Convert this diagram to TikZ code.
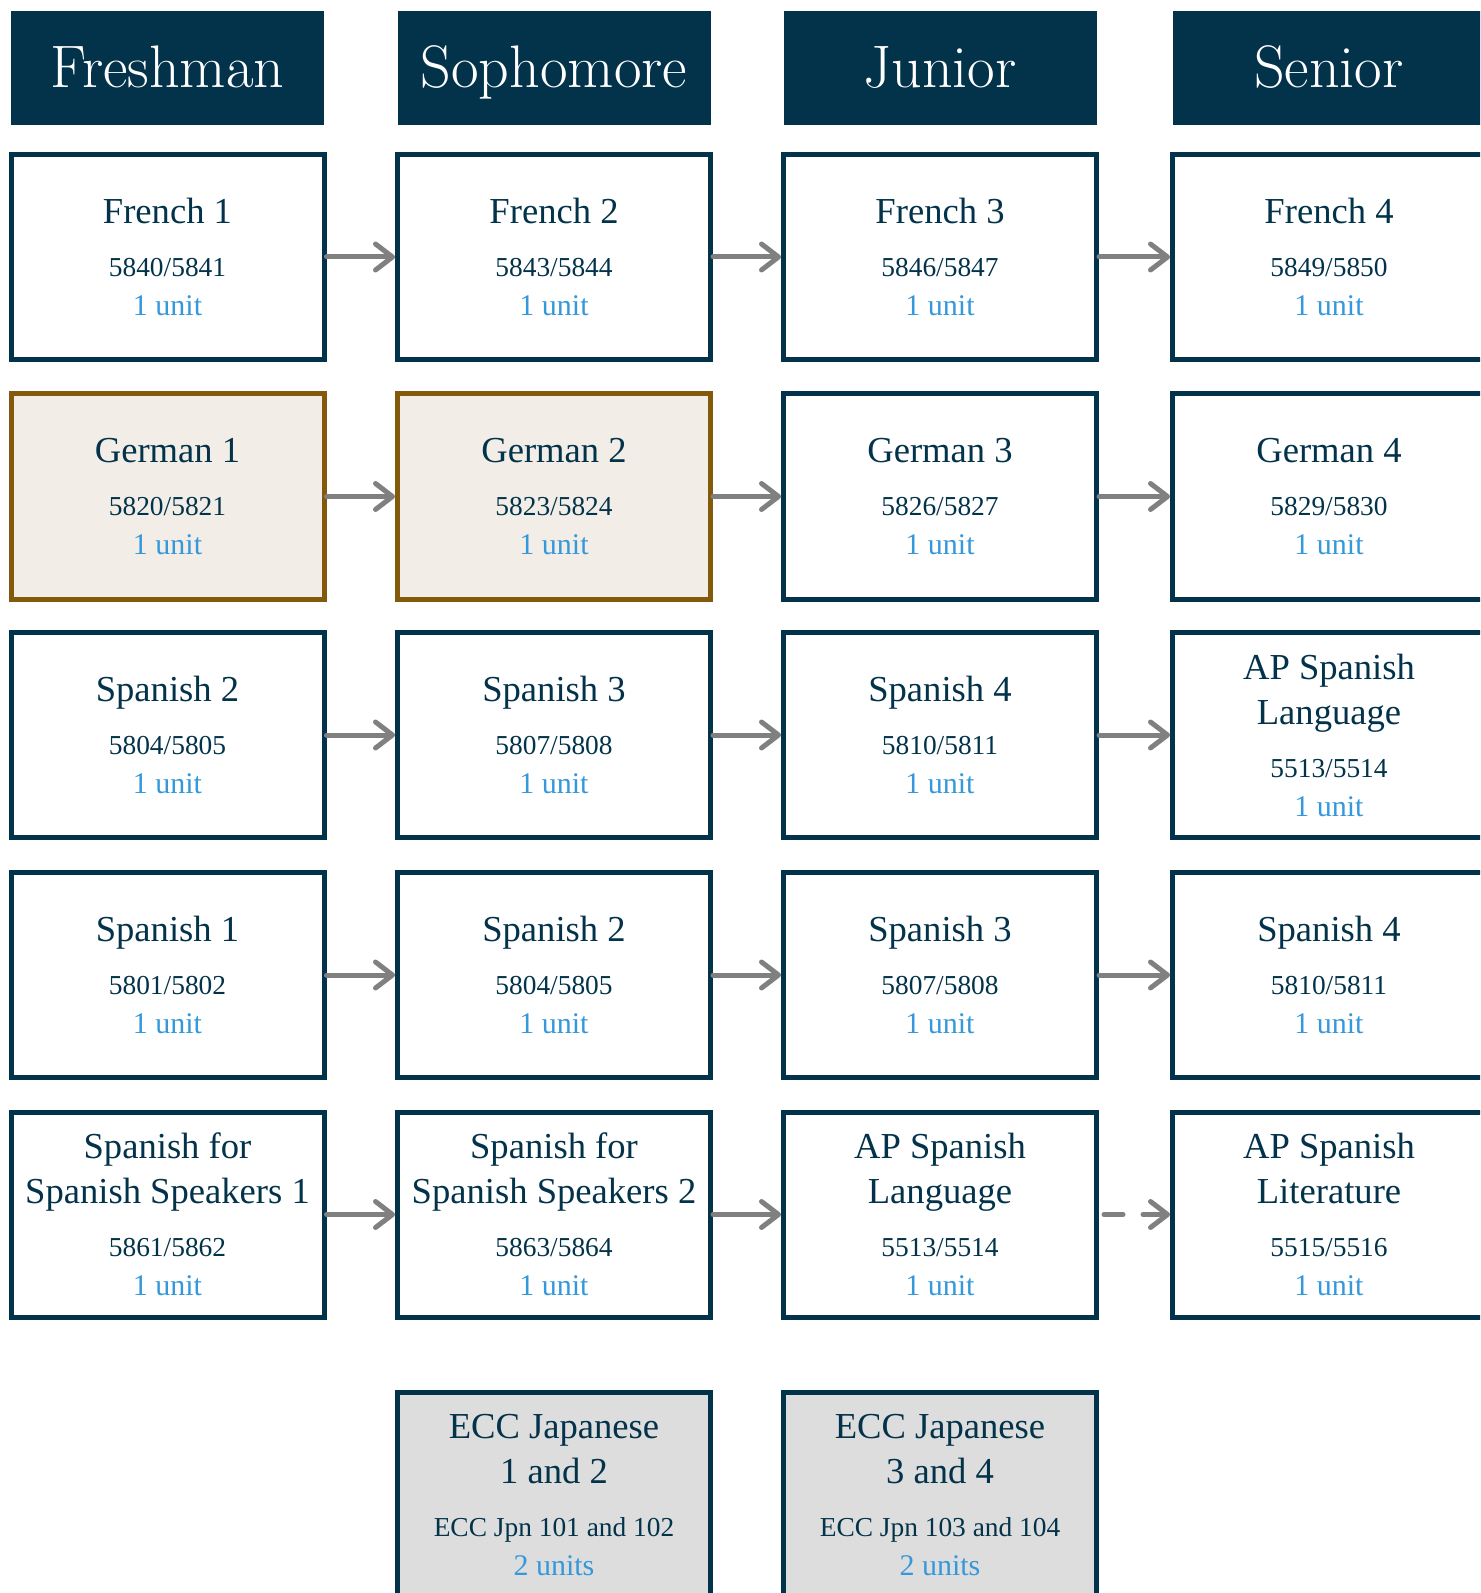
\documentclass[tikz,border=0pt]{standalone}
\usepackage{fontspec}
\newfontfamily\bodyfont{Liberation Serif}
\usetikzlibrary{arrows.meta}
\definecolor{navy}{RGB}{3,51,74}
\definecolor{unitblue}{RGB}{52,152,219}
\definecolor{arrowgray}{RGB}{128,128,128}
\definecolor{gborder}{RGB}{131,90,11}
\definecolor{gfill}{RGB}{242,238,231}
\definecolor{jfill}{RGB}{221,221,221}
\newcommand\tf{\bodyfont\fontsize{18.3}{19.5}\selectfont\color{navy}}
\newcommand\cf{\bodyfont\fontsize{13.7}{19.5}\selectfont\color{navy}}
\newcommand\uf{\bodyfont\fontsize{15}{19.5}\selectfont\color{unitblue}}
\newcommand\crsone[3]{\tf #1\\[7pt]\cf #2\\\uf #3}
\newcommand\crstwo[4]{\tf #1\\[3pt]\tf #2\\[7pt]\cf #3\\\uf #4}
\tikzset{
  course/.style={draw=navy, line width=2.5pt, fill=white, minimum width=156.5pt,
    minimum height=102.5pt, inner sep=0pt, align=center,
    font=\bodyfont\fontsize{13}{19.5}\selectfont},
  german/.style={course, draw=gborder, fill=gfill},
  japan/.style={course, fill=jfill},
  header/.style={fill=navy, minimum width=156.5pt, minimum height=57pt, inner sep=0pt,
    text=white, font=\fontsize{30}{32}\selectfont, text height=20pt, text depth=0pt},
  flow/.style={draw=arrowgray, line width=2.5pt, line cap=round,
    -{Straight Barb[length=8.5pt,width=13pt,round]}},
  optflow/.style={flow, dash pattern=on 9.5pt off 10pt, shorten <=2.5pt}
}
\begin{document}
\begin{tikzpicture}[x=0.5pt,y=-0.5pt]
\useasboundingbox (0,0) rectangle (1480,1593);
\clip (0,0) rectangle (1480,1593);
% headers
\node[header] (h1) at (167.5,68) {Freshman};
\node[header] (h2) at (554,68) {Sophomore};
\node[header] (h3) at (940,68) {Junior};
\node[header] (h4) at (1329,68) {Senior};
% row 1: French
\node[course] (a1) at (167.5,257) {\crsone{French 1}{5840/5841}{1 unit}};
\node[course] (a2) at (554,257) {\crsone{French 2}{5843/5844}{1 unit}};
\node[course] (a3) at (940,257) {\crsone{French 3}{5846/5847}{1 unit}};
\node[course] (a4) at (1329,257) {\crsone{French 4}{5849/5850}{1 unit}};
% row 2: German
\node[german] (b1) at (167.5,496.5) {\crsone{German 1}{5820/5821}{1 unit}};
\node[german] (b2) at (554,496.5) {\crsone{German 2}{5823/5824}{1 unit}};
\node[course] (b3) at (940,496.5) {\crsone{German 3}{5826/5827}{1 unit}};
\node[course] (b4) at (1329,496.5) {\crsone{German 4}{5829/5830}{1 unit}};
% row 3: Spanish from 2
\node[course] (c1) at (167.5,735) {\crsone{Spanish 2}{5804/5805}{1 unit}};
\node[course] (c2) at (554,735) {\crsone{Spanish 3}{5807/5808}{1 unit}};
\node[course] (c3) at (940,735) {\crsone{Spanish 4}{5810/5811}{1 unit}};
\node[course] (c4) at (1329,735) {\crstwo{AP Spanish}{Language}{5513/5514}{1 unit}};
% row 4: Spanish from 1
\node[course] (d1) at (167.5,975) {\crsone{Spanish 1}{5801/5802}{1 unit}};
\node[course] (d2) at (554,975) {\crsone{Spanish 2}{5804/5805}{1 unit}};
\node[course] (d3) at (940,975) {\crsone{Spanish 3}{5807/5808}{1 unit}};
\node[course] (d4) at (1329,975) {\crsone{Spanish 4}{5810/5811}{1 unit}};
% row 5: Spanish for Spanish speakers
\node[course] (e1) at (167.5,1214.5) {\crstwo{Spanish for}{Spanish Speakers 1}{5861/5862}{1 unit}};
\node[course] (e2) at (554,1214.5) {\crstwo{Spanish for}{Spanish Speakers 2}{5863/5864}{1 unit}};
\node[course] (e3) at (940,1214.5) {\crstwo{AP Spanish}{Language}{5513/5514}{1 unit}};
\node[course] (e4) at (1329,1214.5) {\crstwo{AP Spanish}{Literature}{5515/5516}{1 unit}};
% row 6: Japanese
\node[japan] (j2) at (554,1495) {\crstwo{ECC Japanese}{1 and 2}{ECC Jpn 101 and 102}{2 units}};
\node[japan] (j3) at (940,1495) {\crstwo{ECC Japanese}{3 and 4}{ECC Jpn 103 and 104}{2 units}};
% connectors
\foreach \r in {a,b,c,d}{
  \draw[flow] (\r1) -- (\r2);
  \draw[flow] (\r2) -- (\r3);
  \draw[flow] (\r3) -- (\r4);
}
\draw[flow] (e1) -- (e2);
\draw[flow] (e2) -- (e3);
\draw[optflow] (e3) -- (e4);
\end{tikzpicture}
\end{document}
